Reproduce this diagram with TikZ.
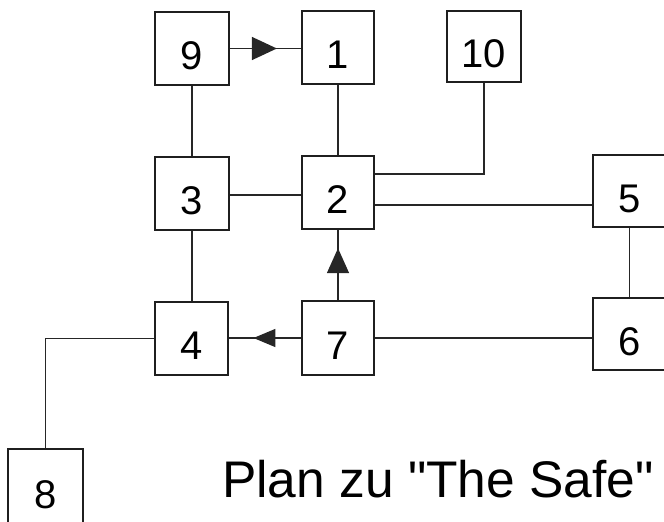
\documentclass[tikz,border=0pt]{standalone}
\usepackage{fontspec}
\newfontfamily\plainfont{Liberation Sans}
\usetikzlibrary{arrows.meta,decorations.markings}
\begin{document}
\begin{tikzpicture}[x=1pt,y=-1pt,
  box/.style={draw=black!88,line width=1.9pt,rectangle,inner sep=0pt,text height=42.6pt,text depth=0pt,font=\plainfont\fontsize{40}{40}\selectfont},
  wire/.style={draw=black!85,line width=1.5pt},
  midarrow/.style n args={3}{postaction={decorate},decoration={markings,
    mark=at position #1 with {\arrow{Triangle[length=#2pt,width=#3pt]}}}}]
\clip (0,0) rectangle (664,522);
\useasboundingbox (0,0) rectangle (664,522);
\node[box,minimum width=74pt,minimum height=73pt] (n9) at (192,48.5) {9};
\node[box,minimum width=72pt,minimum height=73pt] (n1) at (338,47.5) {1};
\node[box,minimum width=74pt,minimum height=71pt] (n10) at (484,46.5) {10};
\node[box,minimum width=74pt,minimum height=73pt] (n3) at (192,193.5) {3};
\node[box,minimum width=72pt,minimum height=73pt] (n2) at (338,192.5) {2};
\node[box,minimum width=73pt,minimum height=72pt] (n5) at (629.5,191) {5};
\node[box,minimum width=73pt,minimum height=72pt] (n6) at (629.5,334) {6};
\node[box,minimum width=73pt,minimum height=73pt] (n4) at (191.5,338.5) {4};
\node[box,minimum width=72pt,minimum height=74pt] (n7) at (338,338) {7};
\node[box,minimum width=75pt,minimum height=76pt] (n8) at (45.5,487) {8};
\node[anchor=base west,font=\plainfont\fontsize{51.5}{51.5}\selectfont,inner sep=0pt] (title) at (222,497) {Plan zu "The Safe"};
% connectors
\draw[wire,midarrow={0.66}{25}{23}] (n9.east) -- (n1.west |- n9.east);
\draw[wire] (n9.south) -- (n9.south |- n3.north);
\draw[wire] (n1.south) -- (n1.south |- n2.north);
\draw[wire] (n10.south) |- ([yshift=18.5pt]n2.east);
\draw[wire] ([yshift=-1.5pt]n3.east) -- ([yshift=-1.5pt]n3.east -| n2.west);
\draw[wire] ([yshift=-12.5pt]n2.east) -- ([yshift=-12.5pt]n2.east -| n5.west);
\draw[wire] (n3.south) -- (n3.south |- n4.north);
\draw[wire,midarrow={0.74}{25}{22}] (n7.north) -- (n7.north |- n2.south);
\draw[wire,midarrow={0.66}{22}{18}] (n7.west) -- (n7.west -| n4.east);
\draw[wire] (n7.east) -- (n7.east -| n6.west);
\draw[wire] (n5.south) -- (n6.north);
\draw[wire] (n4.west) -| (n8.north);
\end{tikzpicture}
\end{document}
